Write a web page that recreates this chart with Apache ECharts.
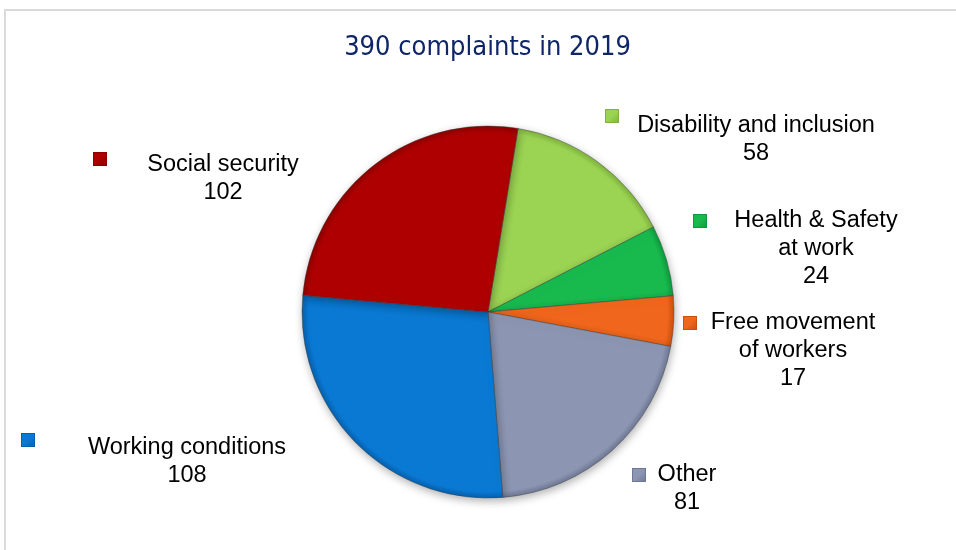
<!DOCTYPE html>
<html>
<head>
<meta charset="utf-8">
<script src="https://cdn.jsdelivr.net/npm/echarts@6/dist/echarts.min.js"></script>
<style>
html,body{margin:0;padding:0;background:#fff;}
#chart{width:956px;height:550px;}
</style>
</head>
<body>
<div id="chart"></div>
<script>
// ---- data ----
const titleText = '390 complaints in 2019';
const categories = ['Disability and inclusion', 'Health & Safety\nat work', 'Free movement\nof workers', 'Other', 'Working conditions', 'Social security'];
const values = [58, 24, 17, 81, 108, 102];

// ---- styles / layout ----
const colors = ['#9BD353', '#18BA4E', '#F0661C', '#8C96B2', '#0A79D3', '#AE0000'];
const rims   = ['#7FB23C', '#0E9A3C', '#C9500F', '#6E7895', '#0660AD', '#8A0000'];
const labelPos  = [[756, 140], [816, 249], [793, 351], [687, 489], [187, 462], [223, 179]];
const markerPos = [[612, 116], [700, 221], [690, 323], [639, 475], [28, 440], [100, 159]];
const C = [488, 312], R = 186;

const pieData = categories.map((n, i) => ({
  name: n,
  value: values[i],
  itemStyle: {
    color: {
      type: 'radial', x: C[0], y: C[1], r: R, global: true,
      colorStops: [
        {offset: 0, color: colors[i]},
        {offset: 0.9, color: colors[i]},
        {offset: 0.965, color: colors[i]},
        {offset: 1, color: rims[i]}
      ]
    }
  }
}));

const markerData = categories.map((n, i) => ({
  name: n,
  value: values[i],
  label: {
    rich: {
      m: {
        width: 12, height: 12,
        backgroundColor: {
          type: 'linear', x: 0, y: 0, x2: 1, y2: 1,
          colorStops: [{offset: 0, color: colors[i]}, {offset: 0.5, color: colors[i]}, {offset: 1, color: rims[i]}]
        },
        borderColor: rims[i], borderWidth: 1
      }
    }
  }
}));

const chart = echarts.init(document.getElementById('chart'), null, {renderer: 'canvas'});
chart.setOption({
  animation: false,
  backgroundColor: '#fff',
  title: {
    text: titleText,
    left: 487.5, top: 34, padding: 0, textAlign: 'center',
    textStyle: {fontFamily: 'DejaVu Sans Condensed', fontSize: 27, fontWeight: 'normal', color: '#0E2567'}
  },
  graphic: [
    {type: 'line', shape: {x1: 5, y1: 10, x2: 956, y2: 10}, style: {stroke: '#DADADA', lineWidth: 2}, silent: true},
    {type: 'line', shape: {x1: 5, y1: 9, x2: 5, y2: 550}, style: {stroke: '#DADADA', lineWidth: 2}, silent: true}
  ],
  series: [
    {
      type: 'pie', z: 1, silent: true,
      center: C, radius: R, startAngle: 80.7, clockwise: true,
      avoidLabelOverlap: false,
      data: markerData,
      itemStyle: {color: 'rgba(0,0,0,0)'},
      label: {show: true, formatter: '{m|}', position: 'outside'},
      labelLine: {show: false},
      labelLayout: p => ({x: markerPos[p.dataIndex][0], y: markerPos[p.dataIndex][1], align: 'center', verticalAlign: 'middle'}),
      emphasis: {disabled: true}
    },
    {
      type: 'pie', z: 2,
      center: C, radius: R, startAngle: 80.7, clockwise: true,
      avoidLabelOverlap: false,
      data: pieData,
      itemStyle: {
        borderColor: 'rgba(60,60,60,0.55)', borderWidth: 0.8,
        shadowBlur: 8, shadowColor: 'rgba(0,0,0,0.3)', shadowOffsetY: 3, shadowOffsetX: 1
      },
      label: {
        show: true, position: 'outside',
        formatter: '{b}\n{c}',
        fontFamily: 'Liberation Sans, Arial, sans-serif', fontSize: 23.5, lineHeight: 28,
        color: '#000', align: 'center'
      },
      labelLine: {show: false},
      labelLayout: p => ({x: labelPos[p.dataIndex][0], y: labelPos[p.dataIndex][1], align: 'center', verticalAlign: 'middle'}),
      emphasis: {scale: false}
    }
  ]
});
</script>
</body>
</html>
